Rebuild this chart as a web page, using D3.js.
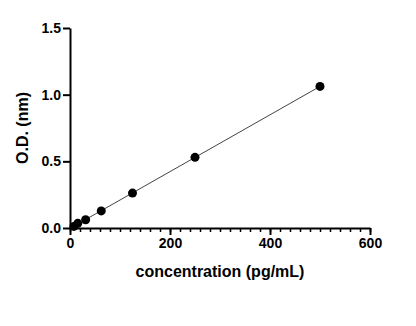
<!DOCTYPE html>
<html>
<head>
<meta charset="utf-8">
<script src="https://cdn.jsdelivr.net/npm/d3@7"></script>
<style>
  body { margin: 0; background: #fff; }
  text { font-family: "Liberation Sans", Arial, sans-serif; font-weight: bold; }
</style>
</head>
<body>
<div id="chart"></div>
<script>
// standard curve points
const conc = [7.8, 15.6, 31.25, 62.5, 125, 250, 500];
const od = [0.012, 0.035, 0.062, 0.128, 0.262, 0.53, 1.062];
const xTicks = [0, 200, 400, 600];
const yTicks = [0.0, 0.5, 1.0, 1.5];

const width = 416, height = 326;
const svg = d3.select("#chart").append("svg")
  .attr("width", width).attr("height", height);

const x = d3.scaleLinear().domain([0, 600]).range([70, 370]);
const y = d3.scaleLinear().domain([0, 1.5]).range([228, 28]);

// linear fit through the points
const n = conc.length;
const mx = d3.mean(conc), my = d3.mean(od);
const slope = d3.sum(conc, (c, i) => (c - mx) * (od[i] - my)) / d3.sum(conc, c => (c - mx) * (c - mx));
const icpt = my - slope * mx;

svg.append("line")
  .attr("x1", x(conc[0])).attr("y1", y(icpt + slope * conc[0]))
  .attr("x2", x(conc[n - 1])).attr("y2", y(icpt + slope * conc[n - 1]))
  .attr("stroke", "#444").attr("stroke-width", 1);

// x axis, minor ticks every 20
const xAxisG = svg.append("g").attr("transform", "translate(0,228)");
xAxisG.append("g")
  .call(d3.axisBottom(x).tickValues(d3.range(0, 601, 20)).tickSize(4).tickFormat(""))
  .call(g => g.select(".domain").remove())
  .call(g => g.selectAll("line").attr("stroke-width", 1.5));
xAxisG.append("g")
  .call(d3.axisBottom(x).tickValues(xTicks).tickSize(7).tickSizeOuter(0).tickPadding(3))
  .call(g => g.select(".domain").attr("stroke-width", 2))
  .call(g => g.selectAll("line").attr("stroke-width", 2))
  .call(g => g.selectAll("text").attr("font-size", 14).attr("fill", "#000"));

svg.append("g").attr("transform", "translate(70,0)")
  .call(d3.axisLeft(y).tickValues(yTicks).tickSize(7).tickSizeOuter(0).tickPadding(2)
    .tickFormat(d3.format(".1f")))
  .call(g => g.select(".domain").attr("stroke-width", 2))
  .call(g => g.selectAll("line").attr("stroke-width", 2))
  .call(g => g.selectAll("text").attr("font-size", 14).attr("fill", "#000"));

svg.selectAll("circle.pt").data(conc).join("circle")
  .attr("class", "pt")
  .attr("cx", d => x(d))
  .attr("cy", (d, i) => y(od[i]))
  .attr("r", 4.5)
  .attr("fill", "#000");

svg.append("text")
  .attr("x", 220).attr("y", 277)
  .attr("text-anchor", "middle").attr("font-size", 16)
  .text("concentration (pg/mL)");

svg.append("text")
  .attr("transform", "translate(28,128) rotate(-90)")
  .attr("text-anchor", "middle").attr("font-size", 16)
  .text("O.D. (nm)");
</script>
</body>
</html>
